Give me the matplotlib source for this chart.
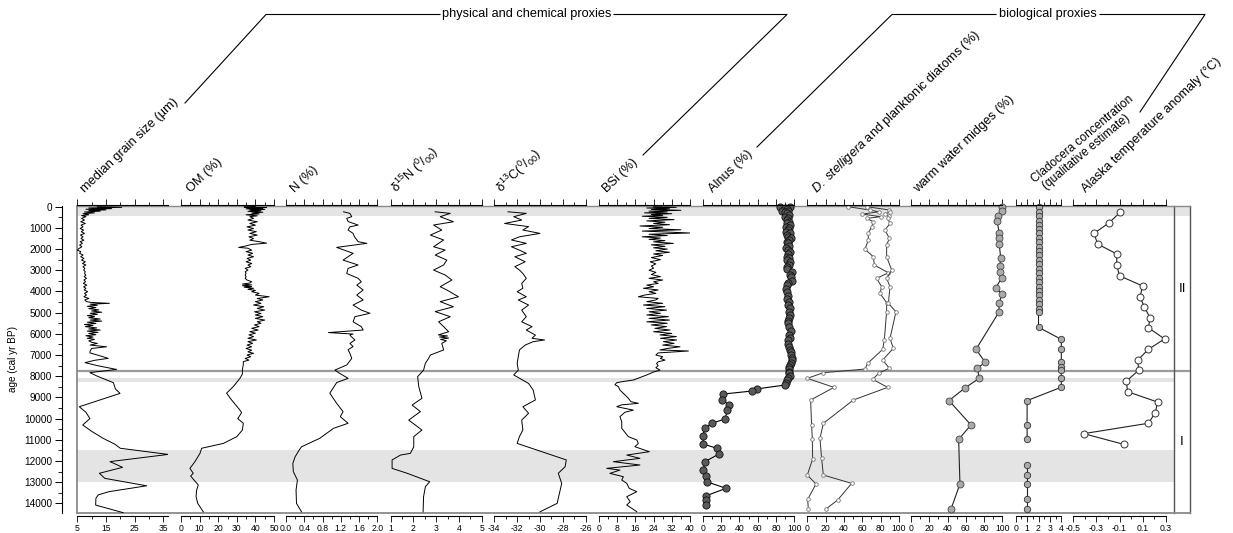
import matplotlib
matplotlib.use('Agg')
import matplotlib.pyplot as plt
import numpy as np
from matplotlib.ticker import MultipleLocator, FormatStrFormatter

plt.rcParams['font.family'] = ['Liberation Sans', 'DejaVu Sans']
plt.rcParams['mathtext.fontset'] = 'custom'
plt.rcParams['mathtext.rm'] = 'Liberation Sans'
plt.rcParams['mathtext.it'] = 'Liberation Sans:italic'
plt.rcParams['axes.unicode_minus'] = False

# ---------------- data (age cal yr BP, value) ----------------
grain = [(0, 12), (30, 20.5), (60, 9), (90, 17), (120, 8), (150, 15), (180, 9), (210, 13), (250, 7.5),
         (290, 11), (330, 7), (380, 9), (420, 6.5), (470, 8), (550, 6.5), (630, 7.5), (710, 6.2), (790, 7.8),
         (870, 6.3), (950, 7.0), (1030, 6.0), (1100, 7.2), (1180, 6.4), (1260, 7.5), (1340, 6.1), (1420, 7.0),
         (1500, 6.3), (1580, 7.3), (1650, 6.0), (1730, 6.8), (1810, 5.8), (1890, 6.6), (1970, 5.6), (2050, 5.0),
         (2120, 6.2), (2200, 5.8), (2280, 7.0), (2360, 6.2), (2440, 7.3), (2520, 6.5), (2600, 7.8), (2680, 6.8),
         (2750, 8.0), (2830, 7.0), (2910, 7.6), (2990, 7.2), (3070, 7.8), (3150, 7.5), (3230, 8.0), (3300, 7.4),
         (3380, 8.2), (3460, 7.3), (3540, 7.9), (3620, 7.1), (3700, 8.3), (3780, 7.2), (3850, 8.0), (3930, 7.4),
         (4010, 8.6), (4090, 7.5), (4170, 8.2), (4250, 7.3), (4330, 9.0), (4400, 7.6), (4480, 8.2), (4520, 10),
         (4560, 16.2), (4600, 9.5), (4650, 12), (4700, 8.5), (4760, 11.5), (4810, 9), (4870, 12.5), (4920, 10),
         (4980, 13.5), (5030, 9.5), (5080, 12), (5140, 8.5), (5190, 11), (5240, 9), (5300, 13), (5350, 9.5),
         (5400, 13.5), (5450, 8.5), (5510, 11.5), (5560, 7.5), (5610, 10.5), (5660, 7.8), (5720, 11.8),
         (5770, 9), (5820, 13), (5870, 8.5), (5930, 12.2), (5980, 9), (6040, 11.5), (6090, 8), (6150, 10.5),
         (6210, 8.5), (6260, 11), (6330, 9), (6400, 10), (6450, 12), (6530, 9.5), (6610, 15.2), (6690, 10),
         (6800, 9.5), (6900, 9.4), (7000, 12), (7157, 15.8), (7250, 11), (7360, 7.7), (7500, 12), (7680, 18.7),
         (7830, 9.4), (8000, 12), (8305, 17.6), (8600, 18.3), (8810, 19.9), (9440, 5.7), (9700, 8),
         (10000, 9.4), (10300, 6.9), (10600, 10), (10930, 14), (11200, 18), (11400, 20), (11690, 36.7),
         (12030, 16.4), (12300, 20.8), (12580, 12.7), (12820, 14.6), (13170, 29.2), (13450, 16),
         (13600, 12.3), (13760, 11.5), (14080, 11.4), (14440, 21)]

om = [(0, 40), (20, 34), (40, 46), (60, 36), (80, 44), (100, 35), (130, 45), (160, 37), (190, 43), (220, 36),
      (260, 44), (300, 38), (340, 42), (380, 35), (430, 41), (470, 37), (550, 39), (630, 36), (710, 41),
      (790, 37), (870, 40), (950, 35.5), (1030, 39), (1100, 36), (1180, 40.5), (1260, 37), (1340, 41),
      (1420, 36.5), (1500, 39), (1580, 37), (1650, 42), (1720, 46), (1780, 38), (1850, 35), (1920, 31),
      (1960, 36), (2050, 38), (2120, 35), (2200, 38.5), (2280, 36), (2360, 39), (2440, 35.5), (2520, 37.5),
      (2600, 35), (2680, 38), (2750, 36), (2830, 37.5), (2910, 34.5), (2990, 36), (3070, 34.5), (3150, 35),
      (3230, 34.5), (3300, 35), (3380, 34.5), (3460, 35.5), (3540, 38), (3600, 37), (3650, 33), (3690, 38),
      (3730, 33), (3770, 38), (3800, 34), (3850, 39), (3900, 36), (3950, 40), (4010, 38), (4090, 42),
      (4170, 40), (4250, 47.4), (4330, 41), (4400, 44), (4480, 40), (4560, 43), (4640, 39), (4720, 44.5),
      (4800, 41), (4880, 45), (4960, 39.5), (5040, 43), (5110, 40), (5190, 44), (5270, 40), (5350, 45),
      (5430, 41), (5500, 43), (5580, 39.5), (5660, 42), (5740, 38), (5820, 41.5), (5900, 37), (5970, 40),
      (6050, 36.5), (6130, 39), (6210, 36), (6290, 40.5), (6370, 36), (6450, 38.5), (6530, 35.5), (6610, 38),
      (6690, 35), (6770, 38), (6850, 36), (6920, 39), (7000, 35.5), (7080, 37.5), (7160, 34.5), (7240, 36.5),
      (7310, 33.5), (7450, 33.5), (7700, 33), (7900, 33), (8100, 31.7), (8500, 28), (8800, 24.5),
      (9120, 27.2), (9600, 31.7), (9720, 32.6), (10000, 30.5), (10220, 33.5), (10540, 33), (10850, 30),
      (11170, 22.8), (11400, 11.1), (11640, 10.2), (12030, 7.5), (12350, 4.8), (12580, 6.6), (12710, 5.2),
      (12900, 7), (13130, 9.3), (13370, 8.4), (13690, 8.1), (14000, 9), (14400, 12)]

nitrogen = [(240, 1.26), (315, 1.40), (470, 1.44), (550, 1.33), (700, 1.36), (865, 1.58), (950, 1.40),
            (1100, 1.36), (1260, 1.47), (1420, 1.50), (1650, 1.58), (1730, 1.77), (1920, 1.11), (2200, 1.47),
            (2520, 1.25), (2750, 1.58), (2910, 1.36), (3150, 1.33), (3380, 1.58), (3540, 1.65), (3700, 1.55),
            (3930, 1.69), (4170, 1.55), (4400, 1.69), (4640, 1.47), (4880, 1.65), (5030, 1.84), (5190, 1.51),
            (5430, 1.47), (5660, 1.65), (5820, 1.69), (5940, 0.93), (6010, 1.47), (6050, 1.40), (6130, 1.43),
            (6290, 1.51), (6450, 1.40), (6600, 1.47), (6750, 1.36), (6920, 1.40), (7160, 1.44), (7470, 1.33),
            (7710, 1.07), (7830, 1.15), (8100, 1.36), (8300, 1.11), (8800, 0.96), (9280, 1.11), (9670, 1.25),
            (9910, 1.19), (10220, 1.36), (10460, 1.04), (10930, 0.74), (11330, 0.34), (11480, 0.29),
            (11800, 0.20), (12110, 0.15), (12500, 0.16), (12900, 0.25), (13370, 0.22), (14000, 0.23),
            (14400, 0.34)]

d15n = [(240, 2.96), (315, 3.62), (470, 3.18), (710, 3.76), (865, 2.89), (1100, 3.25), (1340, 2.75),
        (1570, 3.33), (1890, 2.89), (2045, 3.40), (2280, 2.96), (2520, 3.47), (2750, 3.33), (2990, 2.89),
        (3225, 3.40), (3460, 3.69), (3775, 3.18), (3930, 3.47), (4250, 3.98), (4480, 3.18), (4720, 3.76),
        (4950, 2.96), (5190, 3.62), (5430, 3.11), (5660, 3.33), (5900, 3.55), (6050, 3.10), (6100, 3.50),
        (6150, 3.15), (6200, 3.55), (6260, 3.20), (6330, 3.45), (6450, 3.25), (6760, 3.33), (7000, 2.75),
        (7160, 2.67), (7390, 2.53), (7710, 2.45), (8020, 2.19), (8490, 2.24), (9040, 2.38), (9360, 1.95),
        (9670, 2.31), (10070, 1.80), (10540, 2.38), (10850, 2.02), (11330, 2.02), (11640, 1.87),
        (11720, 1.44), (11950, 1.07), (12350, 1.07), (12580, 1.73), (12980, 2.72), (13210, 2.53),
        (13690, 2.45), (14400, 2.43)]

d13c = [(240, -32.8), (315, -31.2), (470, -32.3), (630, -31.6), (790, -33.1), (940, -31.0), (1100, -31.5),
        (1260, -30.0), (1420, -31.8), (1570, -32.5), (1730, -31.2), (1890, -32.5), (2050, -31.8),
        (2200, -31.2), (2360, -32.2), (2600, -31.3), (2830, -32.2), (2990, -31.8), (3150, -31.5),
        (3380, -31.2), (3620, -31.6), (3850, -31.5), (4010, -32.0), (4250, -31.2), (4400, -31.9),
        (4640, -31.0), (4880, -31.6), (5190, -31.2), (5430, -31.6), (5660, -30.7), (5820, -31.2),
        (6060, -30.4), (6210, -30.7), (6290, -29.6), (6370, -30.6), (6530, -31.3), (6760, -31.8),
        (7080, -31.9), (7390, -32.0), (7710, -31.9), (7940, -32.3), (8340, -31.0), (8650, -30.6),
        (9120, -30.4), (9440, -31.5), (9750, -31.0), (10070, -31.6), (10540, -31.5), (10850, -31.8),
        (11170, -32.0), (11950, -27.7), (12270, -27.8), (12580, -28.4), (13060, -28.1), (13530, -28.3),
        (14000, -28.5), (14400, -30.0)]

bsi = [(0, 24), (30, 34), (60, 21), (95, 31), (130, 23), (170, 36), (210, 22), (250, 30), (290, 20),
       (330, 32), (370, 23), (410, 28), (450, 19), (500, 30), (550, 22), (610, 33), (670, 21), (730, 29),
       (790, 24), (850, 31), (910, 18), (970, 28), (1030, 22), (1090, 36), (1150, 19), (1240, 40), (1300, 22),
       (1360, 30), (1420, 19), (1480, 27), (1540, 22), (1600, 29), (1660, 24), (1730, 32.7), (1800, 23),
       (1870, 29), (1940, 24), (2000, 30), (2080, 25), (2150, 31), (2230, 24), (2300, 28), (2400, 23),
       (2500, 27), (2600, 22.5), (2700, 25), (2800, 23), (2900, 24), (3000, 22), (3100, 25), (3200, 23),
       (3300, 27), (3380, 22), (3460, 28), (3540, 24), (3620, 26), (3700, 21), (3780, 24), (3850, 19.5),
       (3930, 26), (4010, 22), (4090, 25), (4170, 20), (4250, 17.3), (4330, 26), (4400, 25), (4480, 21),
       (4560, 28), (4640, 19.5), (4720, 29), (4800, 21), (4880, 29.7), (4960, 22), (5030, 27), (5110, 21),
       (5190, 30.5), (5270, 22), (5350, 31), (5430, 21), (5500, 30), (5580, 23), (5660, 29.7), (5740, 24.6),
       (5820, 31.2), (5900, 24), (5980, 32), (6050, 26.8), (6130, 34), (6210, 27), (6290, 34.1),
       (6370, 28.3), (6450, 33), (6530, 28), (6610, 35.6), (6690, 30), (6760, 26.8), (6810, 39.3),
       (6900, 26), (7000, 25), (7080, 28), (7160, 27), (7240, 29), (7320, 26), (7400, 25.3), (7500, 26),
       (7600, 25), (7710, 26.8), (7800, 24), (7940, 21), (8060, 18), (8180, 15.1), (8260, 10), (8305, 7.8),
       (8400, 7.0), (8490, 8.5), (8650, 9.2), (8810, 10.7), (9040, 12.9), (9200, 14), (9280, 17.3),
       (9350, 10), (9438, 7.8), (9600, 15.1), (9700, 11.4), (9910, 9.2), (10150, 10.0), (10460, 10),
       (10850, 12.9), (11010, 16.6), (11168, 17.3), (11326, 15.8), (11562, 22.1), (11720, 12.2),
       (11876, 18.0), (12033, 6.3), (12190, 18.0), (12348, 3.4), (12430, 9.2), (12584, 4.8), (12741, 10.7),
       (12899, 10.0), (13056, 12.2), (13292, 13.3), (13449, 16.6), (13685, 12.2), (13921, 13.7),
       (14078, 12.2), (14393, 16.6)]

alnus = [(0, 84.4), (20, 95.3), (79, 89.8), (130, 92), (189, 86.2), (200, 93.5), (260, 90), (315, 91.6),
         (390, 94), (472, 89.8), (550, 93), (629, 91.6), (700, 94.5), (787, 92.4), (860, 95), (944, 90.9),
         (1020, 94), (1101, 93.5), (1180, 91), (1258, 95.3), (1340, 92), (1416, 93.5), (1500, 96),
         (1573, 94.5), (1650, 91.5), (1730, 92.7), (1850, 94), (1966, 90.9), (2050, 93), (2124, 95.3),
         (2240, 93), (2360, 91.6), (2440, 94), (2517, 92.4), (2630, 95), (2753, 94.5), (2850, 92),
         (2941, 91.6), (3067, 97.1), (3200, 95), (3335, 96), (3492, 97.1), (3600, 93), (3697, 91.6),
         (3885, 90.9), (4011, 91.6), (4200, 93), (4373, 92.4), (4500, 94), (4640, 93.5), (4800, 95),
         (4955, 93.8), (5100, 95), (5238, 94.5), (5380, 93), (5506, 92.7), (5663, 94.5), (5850, 96),
         (6056, 94.2), (6180, 95), (6292, 92.7), (6481, 93.5), (6620, 94.5), (6764, 95.3), (6880, 96.5),
         (7000, 96), (7120, 97), (7236, 97.1), (7360, 96), (7472, 95.3), (7580, 94), (7676, 94.5),
         (7780, 94), (7865, 94.5), (7991, 95.3), (8100, 93), (8180, 91.6), (8305, 90.9), (8416, 89.8),
         (8600, 59), (8700, 53.5), (8840, 22.5), (9120, 21.5), (9360, 29), (9600, 27), (10020, 24.4),
         (10220, 9.8), (10460, 2.5), (10820, 0), (11200, 0.7), (11400, 15.3), (11670, 17.8), (12030, 2.5),
         (12430, 0.7), (12690, 3.3), (12980, 4.4), (13290, 25.5), (13650, 3.3), (13840, 3.3), (14080, 3.3)]

stelligera = [(0, 44.7), (157, 68), (240, 78), (350, 60), (470, 80), (550, 65), (708, 72), (944, 70.2),
              (1258, 66.5), (1573, 66.5), (2013, 62.9), (2360, 72), (2753, 73.1), (3115, 88.4), (3382, 75.6),
              (3775, 81.1), (4090, 79.3), (4530, 86.5), (4955, 86.5), (6292, 84), (6732, 82.2), (7393, 65.8),
              (7661, 62.9), (7834, 17.5), (8101, 0), (8526, 29.1), (9123, 3.6), (10303, 4.7), (10980, 5.5),
              (11908, 5.8), (12663, 0), (13087, 9.5), (13811, 0.4), (14267, 1.1)]

planktonic = [(0, 64.7), (150, 89), (240, 90), (346, 84.7), (440, 88.7), (551, 87.6), (787, 90.2),
              (1101, 84.7), (1494, 89.5), (1809, 86.5), (2360, 86.5), (2989, 92), (3382, 86.5), (3775, 90.2),
              (4562, 88.4), (4955, 96.7), (6213, 90.2), (6685, 93.8), (7236, 82.2), (7629, 89.5),
              (7834, 78.5), (8148, 71.3), (8526, 87.6), (9123, 50.2), (10225, 17.5), (10932, 13.8),
              (11876, 15.6), (12663, 17.5), (13056, 48.4), (13842, 33.1), (14267, 20.4)]

midges = [(30, 100), (190, 99.3), (425, 95.6), (660, 94.5), (1230, 96.4), (1490, 96.4), (1780, 96.7),
          (2410, 98.2), (2800, 97.4), (3070, 97.4), (3380, 99.3), (3820, 92.7), (4140, 100), (4530, 96.4),
          (4970, 96.4), (6730, 71.2), (7350, 81.4), (7610, 72.6), (8100, 74.8), (8540, 59.5), (9150, 41.6),
          (10300, 65.7), (10980, 52.2), (13090, 53.6), (14270, 43.8)]

cladocera = [(31, 2), (236, 2), (440, 2), (661, 2), (865, 2), (1070, 2), (1258, 2), (1463, 2), (1683, 2),
             (1888, 2), (2092, 2), (2297, 2), (2517, 2), (2706, 2), (2926, 2), (3146, 2), (3351, 2), (3555, 2),
             (3775, 2), (3980, 2), (4184, 2), (4404, 2), (4609, 2), (4813, 2), (4986, 2), (5690, 2),
             (6260, 4), (6730, 4), (7350, 4), (7550, 4), (7720, 4), (8100, 4), (8520, 4), (9150, 1),
             (10300, 1), (10980, 1)]
cladocera_late = [(12206, 1), (12678, 1), (13087, 1), (13811, 1), (14267, 1)]

temp_anom = [(270, -0.095), (755, -0.19), (1260, -0.32), (1760, -0.29), (2230, -0.124), (2750, -0.124),
             (3260, -0.10), (3740, 0.10), (4250, 0.078), (4750, 0.116), (5240, 0.165), (5710, 0.15),
             (6240, 0.29), (6730, 0.15), (7240, 0.058), (7720, 0.066), (8230, -0.04), (8730, -0.03),
             (9220, 0.23), (9720, 0.21), (10220, 0.15), (10710, -0.41), (11220, -0.06)]

y_ticks = list(range(0, 14001, 1000))
shade_bands = [(-57, 450), (8100, 8250), (11480, 12980)]
boundary_age = 7750
zones = [("II", 3900), ("I", 11100)]

# ---------------- layout ----------------
W, H = 1233, 533
fig = plt.figure(figsize=(W / 100, H / 100), dpi=100)
TOP, BOT = 205.5, 513.3
AGE_TOP, AGE_BOT = -57, 14469
FL, FR, FZ = 77, 1190, 1174


def fx(x):
    return x / W


def fyb(y):
    return 1 - y / H


# background / frame axes
ax_bg = fig.add_axes([fx(FL), fyb(BOT), (FR - FL) / W, (BOT - TOP) / H])
ax_bg.set_xlim(0, 1)
ax_bg.set_ylim(AGE_BOT, AGE_TOP)
xz = (FZ - FL) / (FR - FL)
for i, (a0, a1) in enumerate(shade_bands):
    ax_bg.axhspan(a0, a1, xmin=0, xmax=1 if i == 0 else xz, color='#e4e4e4', lw=0, zorder=0)
ax_bg.axhline(boundary_age, color='#9a9a9a', lw=1.6, zorder=1)
for s in ['top', 'right', 'bottom', 'left']:
    ax_bg.spines[s].set_visible(False)
fc = '#8a8a8a'
ax_bg.plot([0, 0], [AGE_BOT, AGE_TOP], color=fc, lw=1.3, clip_on=False)
ax_bg.plot([1, 1], [AGE_BOT, AGE_TOP], color='#555555', lw=1.0, clip_on=False)
ax_bg.plot([xz, xz], [AGE_BOT, AGE_TOP], color='#555555', lw=1.0, clip_on=False)
ax_bg.plot([0, 1], [AGE_TOP, AGE_TOP], color=fc, lw=1.0, clip_on=False)
ax_bg.plot([0, 1], [AGE_BOT, AGE_BOT], color=fc, lw=1.3, clip_on=False)
ax_bg.set_xticks([])
ax_bg.set_yticks([])
for lab, age in zones:
    ax_bg.text((xz + 1) / 2, age, lab, ha='center', va='center', fontsize=9.5)

# y axis
ax_y = fig.add_axes([fx(61.7), fyb(BOT), 0.0001, (BOT - TOP) / H])
ax_y.set_ylim(AGE_BOT, AGE_TOP)
ax_y.patch.set_visible(False)
for s in ['top', 'right', 'bottom']:
    ax_y.spines[s].set_visible(False)
ax_y.spines['left'].set_linewidth(0.8)
ax_y.set_xticks([])
ax_y.set_yticks(y_ticks)
ax_y.yaxis.set_minor_locator(MultipleLocator(500))
ax_y.tick_params(axis='y', which='major', length=5, width=0.7, labelsize=7.2, pad=2)
ax_y.tick_params(axis='y', which='minor', length=3, width=0.6)
ax_y.set_ylabel('age (cal yr BP)', fontsize=7.2, labelpad=4)

# panels: left px, right px, xlim, major ticks, minor step, format
panels = [
    (77.3, 168.0, (5, 36.64), [5, 15, 25, 35], 5, '%d'),
    (181.0, 274.0, (0, 50), np.arange(0, 51, 10), 5, '%d'),
    (286.0, 377.3, (0, 2), np.arange(0, 2.01, 0.4), 0.2, '%.1f'),
    (390.5, 481.7, (1, 5), np.arange(1, 5.01, 1), 0.5, '%d'),
    (494.3, 585.7, (-34, -26), np.arange(-34, -25.9, 2), 1, '%d'),
    (599.0, 690.0, (0, 40), np.arange(0, 41, 8), 4, '%d'),
    (702.7, 794.3, (0, 100), np.arange(0, 101, 20), 10, '%d'),
    (807.3, 899.0, (0, 100), np.arange(0, 101, 20), 10, '%d'),
    (911.0, 1002.3, (0, 100), np.arange(0, 101, 20), 10, '%d'),
    (1015.7, 1061.3, (0, 4), np.arange(0, 4.01, 1), 0.5, '%d'),
    (1073.3, 1165.7, (-0.5, 0.3), [-0.5, -0.3, -0.1, 0.1, 0.3], 0.1, '%.1f'),
]
axes = []
for (l, r, xl, maj, mn, fmt) in panels:
    ax = fig.add_axes([fx(l), fyb(BOT), (r - l) / W, (BOT - TOP) / H])
    ax.patch.set_visible(False)
    ax.set_xlim(*xl)
    ax.set_ylim(AGE_BOT, AGE_TOP)
    ax.spines['left'].set_visible(False)
    ax.spines['right'].set_visible(False)
    ax.spines['top'].set_position(('outward', 0.5))
    ax.spines['bottom'].set_position(('outward', 2))
    ax.spines['top'].set_linewidth(0.8)
    ax.spines['bottom'].set_linewidth(0.8)
    ax.set_yticks([])
    ax.set_xticks(maj)
    ax.xaxis.set_minor_locator(MultipleLocator(mn))
    ax.xaxis.set_major_formatter(FormatStrFormatter(fmt))
    ax.tick_params(axis='x', which='both', top=True, bottom=True, direction='out',
                   labeltop=False, labelbottom=True)
    ax.tick_params(axis='x', which='major', length=4.5, width=0.6, labelsize=6.2, pad=1.5)
    ax.tick_params(axis='x', which='minor', length=2.5, width=0.6)
    axes.append(ax)


def xy(series):
    a = np.array(series, dtype=float)
    return a[:, 1], a[:, 0]


lw = 0.7
for ax, ser in zip(axes[:6], [grain, om, nitrogen, d15n, d13c, bsi]):
    v, a = xy(ser)
    ax.plot(v, a, color='black', lw=lw)

v, a = xy(alnus)
axes[6].plot(v, a, color='black', lw=0.8, marker='o', ms=5.2, mfc='#5a5a5a', mec='#111111', mew=0.6,
             clip_on=False)

for ser in [stelligera, planktonic]:
    v, a = xy(ser)
    axes[7].plot(v, a, color='#333333', lw=0.7, marker='o', ms=2.6, mfc='white', mec='#777777', mew=0.6,
                 clip_on=False)

v, a = xy(midges)
axes[8].plot(v, a, color='#222222', lw=0.8, marker='o', ms=5.0, mfc='#aaaaaa', mec='#444444', mew=0.6,
             clip_on=False)

for ser in [cladocera, cladocera_late]:
    v, a = xy(ser)
    axes[9].plot(v, a, color='#222222', lw=0.8, marker='o', ms=4.6, mfc='#aaaaaa', mec='#333333', mew=0.6,
                 clip_on=False)

v, a = xy(temp_anom)
axes[10].plot(v, a, color='#222222', lw=0.8, marker='o', ms=5.0, mfc='white', mec='#333333', mew=0.7,
              clip_on=False)

# ---------------- headers ----------------
ov = fig.add_axes([0, 0, 1, 1])
ov.set_xlim(0, W)
ov.set_ylim(H, 0)
ov.axis('off')
ov.patch.set_visible(False)

fs = 9.2
labels = [
    (85, 193, 'median grain size (µm)', fs, 44),
    (191, 193, 'OM (%)', fs, 44),
    (295, 193, 'N (%)', fs, 44),
    (397, 193, r'δ$^{15}$N ($^{0}$/$_{00}$)', fs, 44),
    (502, 193, r'δ$^{13}$C($^{0}$/$_{00}$)', fs, 44),
    (607, 193, 'BSi (%)', fs, 44),
    (713, 193, 'Alnus (%)', fs, 44),
    (817, 193, r'$\it{D.\ stelligera}$ and planktonic diatoms (%)', fs, 44),
    (918, 193, 'warm water midges (%)', fs, 44),
    (1035, 183, 'Cladocera concentration', 8.6, 40),
    (1046, 190, '(qualitative estimate)', 8.6, 40),
    (1086, 193, 'Alaska temperature anomaly (°C)', fs, 44),
]
for x, y, s, f, r in labels:
    ov.text(x, y, s, rotation=r, rotation_mode='anchor', ha='left', va='baseline', fontsize=f)

lk = dict(color='black', lw=0.8)
ov.plot([185, 266, 440], [103, 14.5, 14.5], **lk)
ov.plot([614, 787, 643], [14.5, 14.5, 155], **lk)
ov.text(527, 14.5, 'physical and chemical proxies', ha='center', va='center', fontsize=fs)
ov.plot([757, 892, 996], [147, 14.5, 14.5], **lk)
ov.plot([1100, 1205, 1140], [14.5, 14.5, 112], **lk)
ov.text(1048, 14.5, 'biological proxies', ha='center', va='center', fontsize=fs)

fig.savefig('out.png', dpi=100)
